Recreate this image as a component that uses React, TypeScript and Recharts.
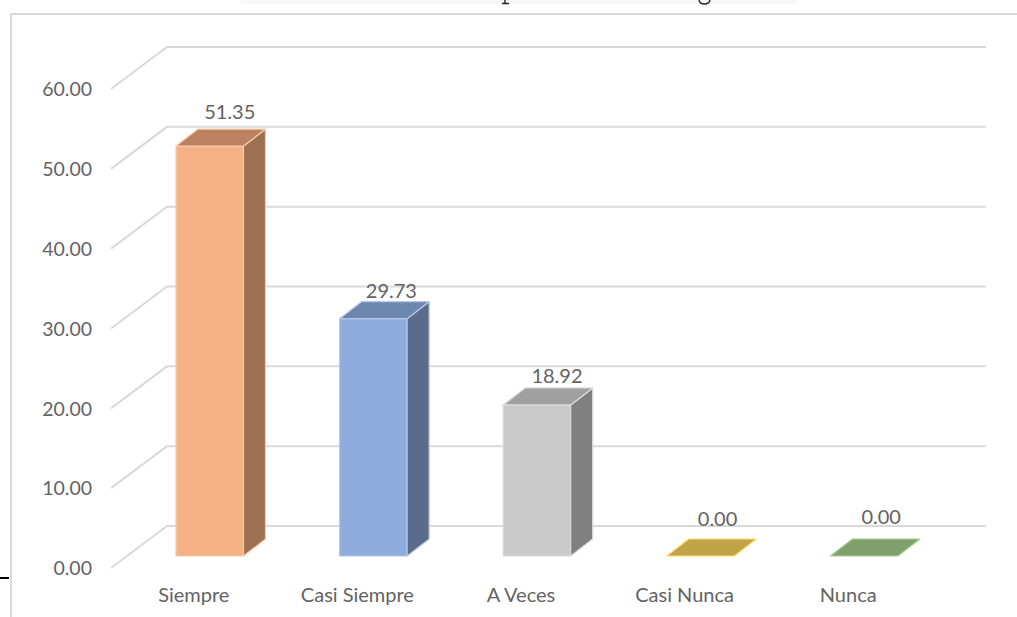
import React from 'react';
import { BarChart, Bar, XAxis, YAxis, CartesianGrid, LabelList, Cell } from 'recharts';

const CATEGORIES = ['Siempre', 'Casi Siempre', 'A Veces', 'Casi Nunca', 'Nunca'];
const VALUES = [51.35, 29.73, 18.92, 0.0, 0.0];
const Y_TICKS = [0, 10, 20, 30, 40, 50, 60];

const FRONT = ['#F4B183', '#8FAADC', '#C9C9C9', '#FFC000', '#70AD47'];
const SIDE = ['#9C7050', '#5A6B8C', '#808080', '#A0861E', '#5E8040'];
const TOP = ['#BA8260', '#6D86B0', '#A0A0A0', '#BFA44A', '#7F9F6C'];
const EDGE = ['#F8CBAD', '#B4C7E7', '#DBDBDB', '#FFD966', '#A9D18E'];

// hand placed labels in the original, nudged per bar
const LABEL_DX = [20, 18, 20, 17, 17];
const LABEL_DY = [-34, -28, -29, -37, -39];

const data = CATEGORIES.map((name, i) => ({ name, value: VALUES[i] }));

const TEXT = '#636363';
const FONT = 'Lato, sans-serif';
const DEPTH_X = 22;
const DEPTH_Y = 17;

function GridLine(props: any) {
  const y = props.y1;
  return (
    <path
      d={`M111 ${y + 12} L167 ${y - 30} L986 ${y - 30}`}
      fill="none"
      stroke="#D9D9D9"
      strokeWidth={2}
    />
  );
}

function Box3D(props: any) {
  const { x, y, width, height, index } = props;
  const r = x + width;
  const b = y + height;
  const top = `M${x} ${y} L${x + DEPTH_X} ${y - DEPTH_Y} L${r + DEPTH_X} ${y - DEPTH_Y} L${r} ${y} Z`;
  const side = `M${r} ${y} L${r + DEPTH_X} ${y - DEPTH_Y} L${r + DEPTH_X} ${b - DEPTH_Y} L${r} ${b} Z`;
  return (
    <g stroke={EDGE[index]} strokeWidth={1.2} strokeLinejoin="round">
      {height > 0 && <rect x={x} y={y} width={width} height={height} fill={FRONT[index]} />}
      {height > 0 && <path d={side} fill={SIDE[index]} />}
      <path d={top} fill={TOP[index]} />
    </g>
  );
}

function YTick(props: any) {
  return (
    <text x={92} y={props.y + 12.5} dy="0.35em" textAnchor="end" fontFamily={FONT} fontSize={19.5} fill={TEXT}>
      {Number(props.payload.value).toFixed(2)}
    </text>
  );
}

function XTick(props: any) {
  return (
    <text x={props.x - 16} y={595} dy="0.35em" textAnchor="middle" fontFamily={FONT} fontSize={20} fill={TEXT}>
      {props.payload.value}
    </text>
  );
}

function ValueLabel(props: any) {
  const { x, y, width, value, index } = props;
  return (
    <text x={x + width / 2 + LABEL_DX[index]} y={y + LABEL_DY[index]} dy="0.35em" textAnchor="middle" fontFamily={FONT} fontSize={20} fill={TEXT}>
      {Number(value).toFixed(2)}
    </text>
  );
}

export default function App() {
  return (
    <div style={{ position: 'absolute', left: 0, top: 0, width: 1017, height: 617, background: '#fff', overflow: 'hidden' }}>
      <div style={{ position: 'absolute', left: 241, top: 0, width: 556, height: 4, background: '#F7F7F7' }} />
      {/* leftovers of the title that is cropped away in the source image */}
      <svg style={{ position: 'absolute', left: 0, top: 0 }} width={1017} height={5}>
        <path d="M505 0 V3 M502 3.5 H509" stroke="#222" strokeWidth={1.4} fill="none" />
        <path d="M699 0 Q700 4 704.5 4 Q709 4 710 0" stroke="#222" strokeWidth={1.4} fill="none" />
      </svg>
      <div style={{ position: 'absolute', left: 10, top: 13, right: 0, bottom: -4, borderLeft: '2px solid #D9D9D9', borderTop: '2px solid #D9D9D9' }} />
      <div style={{ position: 'absolute', left: 0, top: 577, width: 9, height: 2, background: '#000' }} />
      <div style={{ position: 'absolute', left: 0, top: 0 }}>
        <BarChart
          width={1017}
          height={617}
          data={data}
          margin={{ top: 77, right: 71, bottom: 21, left: 68 }}
          barSize={67.5}
        >
          <CartesianGrid vertical={false} horizontal={(p: any) => <GridLine key={p.key} {...p} />} />
          <XAxis dataKey="name" height={40} axisLine={false} tickLine={false} tick={XTick} interval={0} />
          <YAxis width={60} domain={[0, 60]} ticks={Y_TICKS} axisLine={false} tickLine={false} tick={YTick} />
          <Bar dataKey="value" isAnimationActive={false} shape={Box3D}>
            {data.map((d) => (
              <Cell key={d.name} />
            ))}
            <LabelList dataKey="value" content={ValueLabel} />
          </Bar>
        </BarChart>
      </div>
    </div>
  );
}
